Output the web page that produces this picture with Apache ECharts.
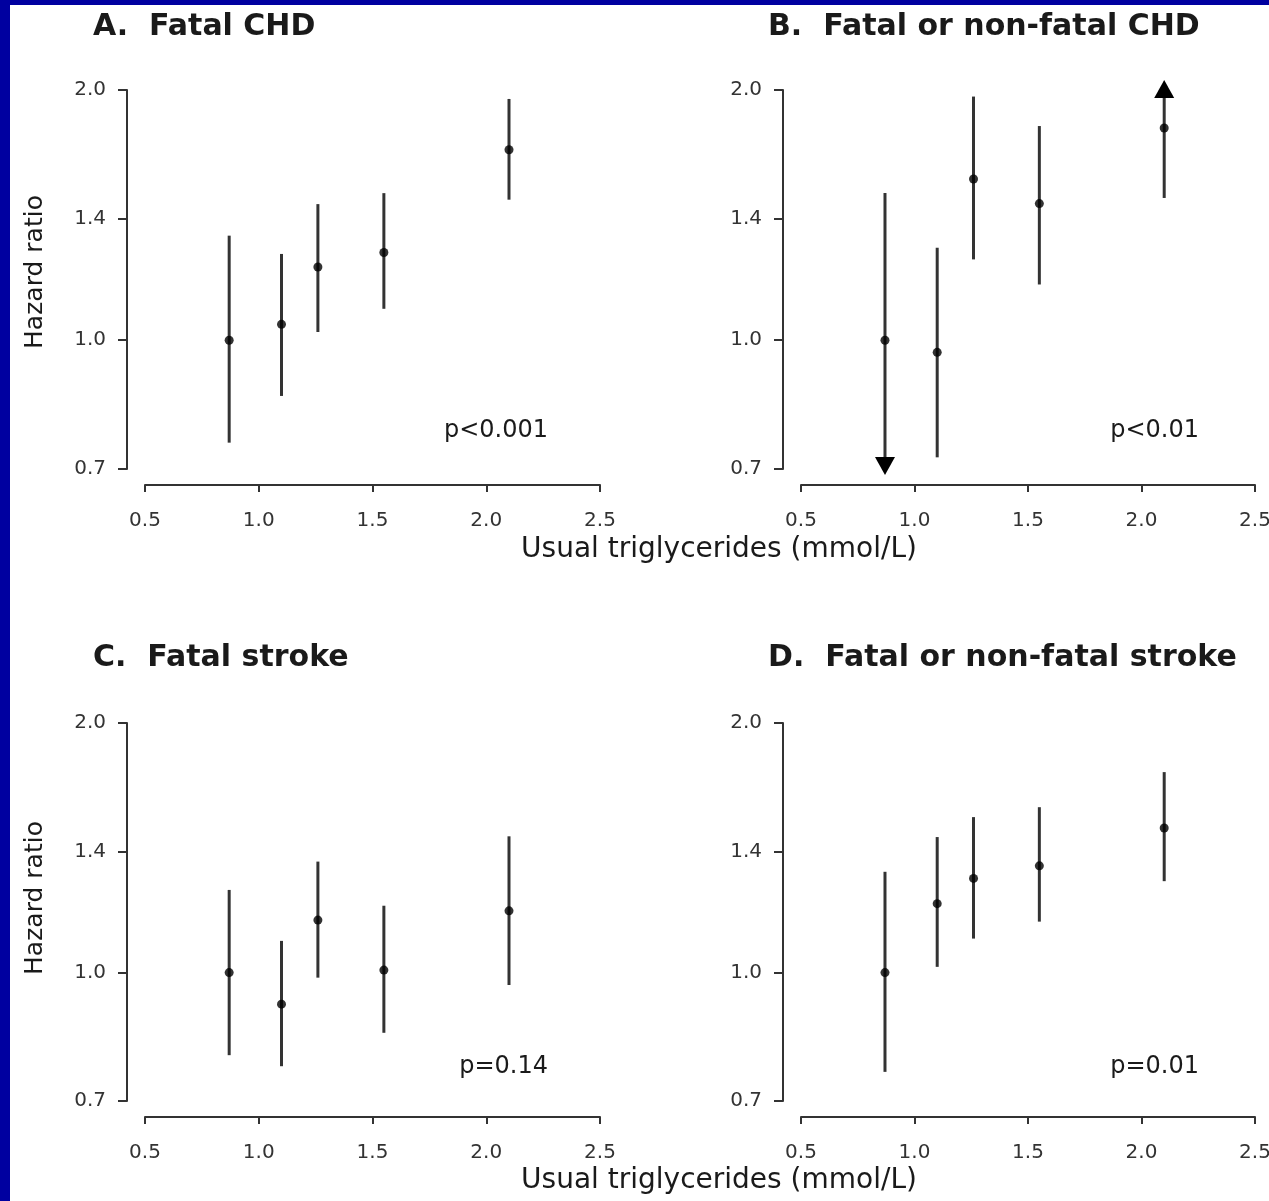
<!DOCTYPE html>
<html>
<head>
<meta charset="utf-8">
<script src="https://cdn.jsdelivr.net/npm/echarts@6/dist/echarts.min.js"></script>
<style>
  html, body { margin: 0; padding: 0; background: #fff; }
  #main { width: 1269px; height: 1201px; }
</style>
</head>
<body>
<div id="main"></div>
<script>
// usual triglycerides (mmol/L), same five groups in every panel
const triglycerides = [0.87, 1.10, 1.26, 1.55, 2.10];

// A. fatal CHD
const fatalChdHr = [1.00, 1.045, 1.225, 1.275, 1.695];
const fatalChdLow = [0.753, 0.857, 1.023, 1.091, 1.476];
const fatalChdHigh = [1.336, 1.270, 1.458, 1.503, 1.951];

// B. fatal or non-fatal CHD (first low and last high run off the scale)
const anyChdHr = [1.00, 0.967, 1.563, 1.46, 1.80];
const anyChdLow = [0.62, 0.723, 1.251, 1.167, 1.483];
const anyChdHigh = [1.504, 1.292, 1.964, 1.81, 2.2];

// C. fatal stroke
const fatalStrokeHr = [1.00, 0.916, 1.157, 1.007, 1.187];
const fatalStrokeLow = [0.795, 0.771, 0.986, 0.846, 0.966];
const fatalStrokeHigh = [1.258, 1.092, 1.361, 1.204, 1.46];

// D. fatal or non-fatal stroke
const anyStrokeHr = [1.00, 1.211, 1.299, 1.345, 1.494];
const anyStrokeLow = [0.759, 1.016, 1.099, 1.152, 1.289];
const anyStrokeHigh = [1.323, 1.457, 1.54, 1.583, 1.745];

const xTicks = [0.5, 1.0, 1.5, 2.0, 2.5];
const yTicks = [0.7, 1.0, 1.4, 2.0];
const panelTitles = ['A.  Fatal CHD', 'B.  Fatal or non-fatal CHD', 'C.  Fatal stroke', 'D.  Fatal or non-fatal stroke'];
const pValues = ['p<0.001', 'p<0.01', 'p=0.14', 'p=0.01'];
const yName = 'Hazard ratio';
const xName = 'Usual triglycerides (mmol/L)';

const FONT = 'DejaVu Sans';
const INK = '#1a1a1a';

const panels = [
  { hr: fatalChdHr, lo: fatalChdLow, hi: fatalChdHigh, left: 145, top: 90, width: 455, height: 379 },
  { hr: anyChdHr, lo: anyChdLow, hi: anyChdHigh, left: 801, top: 90, width: 454, height: 379 },
  { hr: fatalStrokeHr, lo: fatalStrokeLow, hi: fatalStrokeHigh, left: 145, top: 723, width: 455, height: 378 },
  { hr: anyStrokeHr, lo: anyStrokeLow, hi: anyStrokeHigh, left: 801, top: 723, width: 454, height: 378 }
];

const yMin = Math.log10(yTicks[0]);
const yMax = Math.log10(yTicks[yTicks.length - 1]);
const yTickPos = yTicks.map(v => Math.log10(v));

function renderBar(params, api) {
  const cs = params.coordSys;
  const top = cs.y, bottom = cs.y + cs.height;
  const pLo = api.coord([api.value(0), api.value(1)]);
  const pHi = api.coord([api.value(0), api.value(2)]);
  const x = pLo[0];
  const arrow = 8, half = 10;
  let y1 = pHi[1], y2 = pLo[1];
  const children = [];
  if (y1 < top) {
    children.push({ type: 'polygon', shape: { points: [[x, top - arrow - 2], [x - half, top + arrow], [x + half, top + arrow]] }, style: { fill: '#000' } });
    y1 = top + arrow;
  }
  if (y2 > bottom) {
    children.push({ type: 'polygon', shape: { points: [[x, bottom + arrow - 2], [x - half, bottom - arrow - 4], [x + half, bottom - arrow - 4]] }, style: { fill: '#000' } });
    y2 = bottom - arrow;
  }
  children.unshift({ type: 'line', shape: { x1: x, y1: y1, x2: x, y2: y2 }, style: { stroke: '#333', lineWidth: 3 } });
  return { type: 'group', children };
}

const option = {
  backgroundColor: '#fff',
  animation: false,
  title: panelTitles.map((t, i) => ({
    text: t,
    left: i % 2 === 0 ? 93 : 768,
    top: i < 2 ? 12 : 643,
    padding: 0,
    textStyle: { fontFamily: FONT, fontSize: 30, fontWeight: 'bold', color: INK }
  })),
  grid: panels.map(p => ({ left: p.left, top: p.top, width: p.width, height: p.height, outerBoundsMode: 'none' })),
  xAxis: panels.map((p, i) => ({
    type: 'value', gridIndex: i, min: 0.5, max: 2.5, offset: 16,
    axisLine: { show: true, onZero: false, lineStyle: { color: '#333', width: 2 } },
    axisTick: { show: true, length: 7, customValues: xTicks, lineStyle: { color: '#333', width: 2 } },
    axisLabel: { customValues: xTicks, margin: 26, fontFamily: FONT, fontSize: 20, color: '#333', formatter: v => v.toFixed(1) },
    splitLine: { show: false }
  })),
  yAxis: panels.map((p, i) => ({
    type: 'value', gridIndex: i, min: yMin, max: yMax, offset: 18,
    axisLine: { show: true, onZero: false, lineStyle: { color: '#333', width: 2 } },
    axisTick: { show: true, length: 9, customValues: yTickPos, lineStyle: { color: '#333', width: 2 } },
    axisLabel: { customValues: yTickPos, margin: 21, fontFamily: FONT, fontSize: 20, color: '#333', formatter: v => Math.pow(10, v).toFixed(1) },
    splitLine: { show: false }
  })),
  series: panels.flatMap((p, i) => [
    {
      type: 'custom', xAxisIndex: i, yAxisIndex: i, clip: false,
      renderItem: renderBar,
      data: triglycerides.map((x, k) => [x, Math.log10(p.lo[k]), Math.log10(p.hi[k])])
    },
    {
      type: 'scatter', xAxisIndex: i, yAxisIndex: i, z: 5,
      symbol: 'circle', symbolSize: 9, itemStyle: { color: '#000' },
      data: triglycerides.map((x, k) => [x, Math.log10(p.hr[k])])
    }
  ]),
  graphic: [
    { type: 'rect', shape: { x: 0, y: 0, width: 1269, height: 5 }, style: { fill: '#0000a0' } },
    { type: 'rect', shape: { x: 0, y: 0, width: 10, height: 1201 }, style: { fill: '#0000a0' } },
    ...pValues.map((t, i) => ({
      type: 'text', x: i % 2 === 0 ? 548 : 1199, y: i < 2 ? 431 : 1067,
      style: { text: t, fontFamily: FONT, fontSize: 24, fill: INK, align: 'right', textAlign: 'right', verticalAlign: 'middle', textVerticalAlign: 'middle' }
    })),
    ...[272, 898].map(y => ({
      type: 'text', x: 35, y: y, rotation: Math.PI / 2,
      style: { text: yName, fontFamily: FONT, fontSize: 25, fill: INK, align: 'center', textAlign: 'center', verticalAlign: 'middle', textVerticalAlign: 'middle' }
    })),
    ...[550, 1181].map(y => ({
      type: 'text', x: 719, y: y,
      style: { text: xName, fontFamily: FONT, fontSize: 28, fill: INK, align: 'center', textAlign: 'center', verticalAlign: 'middle', textVerticalAlign: 'middle' }
    }))
  ]
};

echarts.init(document.getElementById('main')).setOption(option);
</script>
</body>
</html>
